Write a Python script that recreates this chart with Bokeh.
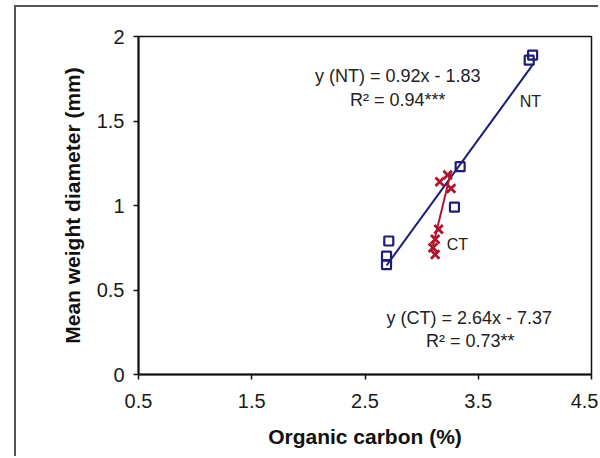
import numpy as np
from bokeh.plotting import figure
from bokeh.models import Range1d, FixedTicker, Label
from bokeh.embed import file_html
from bokeh.resources import INLINE

# ---- data ----
nt_carbon = [2.71, 2.69, 2.69, 3.29, 3.34, 3.95, 3.98]
nt_mwd = [0.79, 0.70, 0.65, 0.99, 1.23, 1.86, 1.89]
ct_carbon = [3.16, 3.23, 3.26, 3.15, 3.12, 3.10, 3.12]
ct_mwd = [1.14, 1.18, 1.10, 0.86, 0.80, 0.75, 0.71]
nt_slope, nt_intercept = 0.92, -1.83

x_ticks = [0.5, 1.5, 2.5, 3.5, 4.5]
x_tick_labels = ["0.5", "1.5", "2.5", "3.5", "4.5"]
y_ticks = [0, 0.5, 1, 1.5, 2]
y_tick_labels = ["0", "0.5", "1", "1.5", "2"]

FONT = "Liberation Sans"
NAVY = "#1e1e78"
RED = "#b0142c"

p = figure(width=584, height=451, output_backend="svg", toolbar_location=None,
           x_range=Range1d(0.5, 4.5), y_range=Range1d(0, 2),
           min_border_left=122, min_border_right=9, min_border_top=29, min_border_bottom=84)
p.styles = {"margin-left": "14px", "margin-top": "5px",
            "border-left": "2px solid #555555", "border-top": "2px solid #555555"}

p.grid.visible = False
p.outline_line_color = "#111111"
p.outline_line_width = 1.5
p.background_fill_color = "white"
p.border_fill_color = "white"

p.xaxis.ticker = FixedTicker(ticks=x_ticks)
p.xaxis.major_label_overrides = dict(zip(x_ticks, x_tick_labels))
p.yaxis.ticker = FixedTicker(ticks=y_ticks)
p.yaxis.major_label_overrides = dict(zip(y_ticks, y_tick_labels))

for ax in (p.xaxis, p.yaxis):
    ax.axis_line_width = 2
    ax.axis_line_color = "#111111"
    ax.major_tick_line_color = "#111111"
    ax.major_tick_line_width = 1.5
    ax.major_tick_in = 0
    ax.major_tick_out = 5
    ax.minor_tick_line_color = None
    ax.major_label_text_font = FONT
    ax.major_label_text_font_size = "20px"
    ax.major_label_text_color = "#1a1a1a"
    ax.axis_label_text_font = FONT
    ax.axis_label_text_font_size = "21px"
    ax.axis_label_text_font_style = "bold"
    ax.axis_label_text_color = "#111111"

p.xaxis.axis_label = "Organic carbon (%)"
p.yaxis.axis_label = "Mean weight diameter (mm)"
p.xaxis.major_label_standoff = 14
p.yaxis.major_label_standoff = 9
p.xaxis.axis_label_standoff = 14
p.yaxis.axis_label_standoff = 10

# regression lines
nx = np.array([min(nt_carbon), max(nt_carbon)])
p.line(nx, nt_slope * nx + nt_intercept, line_color=NAVY, line_width=2)
ct_fit = np.polyfit(ct_carbon, ct_mwd, 1)
cx = np.array([min(ct_carbon), max(ct_carbon)])
p.line(cx, np.polyval(ct_fit, cx), line_color=RED, line_width=2)

# points
p.scatter(nt_carbon, nt_mwd, marker="square", size=9, fill_color=None,
          line_color=NAVY, line_width=2.2)
p.scatter(ct_carbon, ct_mwd, marker="x", size=12, line_color=RED, line_width=2.8)

def add_text(x, y, txt, size="18px"):
    p.add_layout(Label(x=x, y=y, text=txt, text_font=FONT, text_font_size=size,
                       text_color="#222222", text_align="center", text_baseline="middle"))

add_text(2.79, 1.765, "y (NT) = 0.92x - 1.83")
add_text(2.79, 1.625, "R² = 0.94***")
add_text(3.42, 0.336, "y (CT) = 2.64x - 7.37")
add_text(3.43, 0.199, "R² = 0.73**")
add_text(3.96, 1.617, "NT", "16px")
add_text(3.315, 0.77, "CT", "16px")

open("out.html", "w").write(file_html(p, INLINE))
